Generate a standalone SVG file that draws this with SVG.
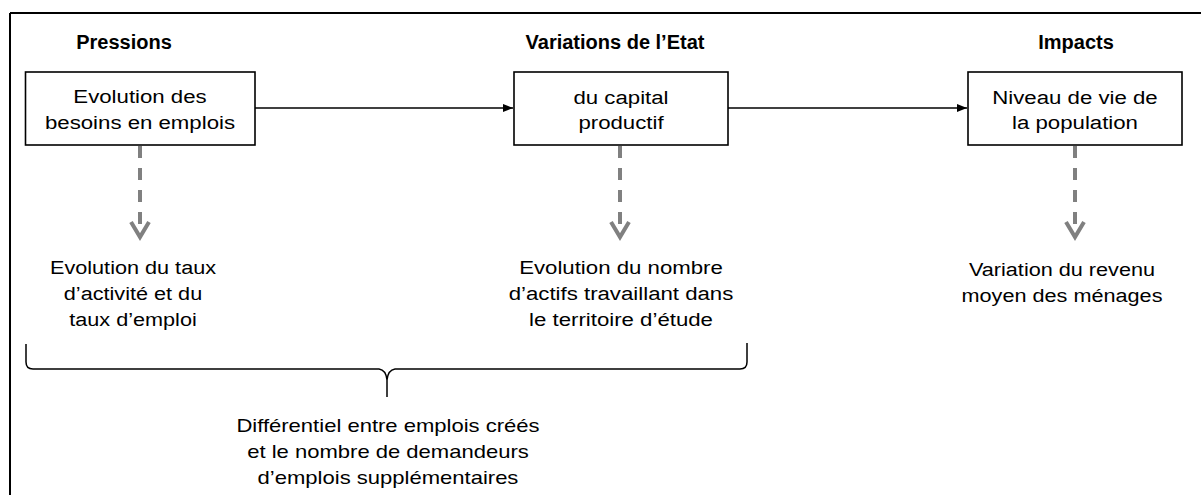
<svg xmlns="http://www.w3.org/2000/svg" width="1201" height="495" viewBox="0 0 1201 495">
<style>
.hdr{font-family:"Liberation Sans",Arial,sans-serif;font-weight:bold;font-size:20px;fill:#000;text-anchor:middle}
.txt{font-family:"Liberation Sans",Arial,sans-serif;font-size:19px;fill:#000;text-anchor:middle}
.box{fill:#fff;stroke:#000;stroke-width:1.6}
.solid{stroke:#000;stroke-width:1.5;fill:none}
.dash{stroke:#808080;stroke-width:4;fill:none;stroke-dasharray:12 10}
.chev{stroke:#808080;stroke-width:4;fill:none;stroke-linejoin:miter}
.brace{stroke:#000;stroke-width:1.5;fill:none}
</style>
<defs>
<marker id="ah" markerWidth="10" markerHeight="8" refX="10" refY="4" orient="auto" markerUnits="userSpaceOnUse">
<path d="M0,0 L10,4 L0,8 Z" fill="#000"/>
</marker>
</defs>
<rect x="0" y="0" width="1201" height="495" fill="#fff"/>
<g id="frame">
<path d="M10,13 H1201 M10,13 V495" stroke="#000" stroke-width="2" fill="none"/>
</g>
<g id="headers">
<text class="hdr" x="124" y="49">Pressions</text>
<text class="hdr" x="615" y="49">Variations de l’Etat</text>
<text class="hdr" x="1076" y="49">Impacts</text>
</g>
<g id="connectors">
<line class="solid" x1="255" y1="108" x2="513" y2="108" marker-end="url(#ah)"/>
<line class="solid" x1="728" y1="108" x2="967" y2="108" marker-end="url(#ah)"/>
<line class="dash" x1="140" y1="146" x2="140" y2="226"/>
<polyline class="chev" points="131,222 140,237 149,222"/>
<line class="dash" x1="620" y1="146" x2="620" y2="226"/>
<polyline class="chev" points="611,222 620,237 629,222"/>
<line class="dash" x1="1075" y1="146" x2="1075" y2="226"/>
<polyline class="chev" points="1066,222 1075,237 1084,222"/>
<path class="brace" d="M26,344 V362 Q26,369 33,369 H379 Q386,370 387,380 V397 M387,380 Q388,370 395,369 H740 Q747,369 747,362 V343"/>
</g>
<g id="node-pressions">
<rect class="box" x="25.5" y="72" width="229.5" height="73"/>
<text class="txt" transform="translate(140,0) scale(1.17,1)"><tspan x="0" y="103">Evolution des</tspan><tspan x="0" y="129">besoins en emplois</tspan></text>
</g>
<g id="node-etat">
<rect class="box" x="514" y="72" width="214" height="73"/>
<text class="txt" transform="translate(621,0) scale(1.17,1)"><tspan x="0" y="104">du capital</tspan><tspan x="0" y="129">productif</tspan></text>
</g>
<g id="node-impacts">
<rect class="box" x="968" y="72" width="214" height="73"/>
<text class="txt" transform="translate(1075,0) scale(1.17,1)"><tspan x="0" y="104">Niveau de vie de</tspan><tspan x="0" y="129">la population</tspan></text>
</g>
<g id="label-taux">
<text class="txt" transform="translate(133,0) scale(1.14,1)"><tspan x="0" y="274">Evolution du taux</tspan><tspan x="0" y="300">d’activité et du</tspan><tspan x="0" y="326">taux d’emploi</tspan></text>
</g>
<g id="label-actifs">
<text class="txt" transform="translate(621,0) scale(1.17,1)"><tspan x="0" y="274">Evolution du nombre</tspan><tspan x="0" y="300">d’actifs travaillant dans</tspan><tspan x="0" y="326">le territoire d’étude</tspan></text>
</g>
<g id="label-revenu">
<text class="txt" transform="translate(1062,0) scale(1.14,1)"><tspan x="0" y="276">Variation du revenu</tspan><tspan x="0" y="302">moyen des ménages</tspan></text>
</g>
<g id="label-differentiel">
<text class="txt" transform="translate(388,0) scale(1.16,1)"><tspan x="0" y="432">Différentiel entre emplois créés</tspan><tspan x="0" y="458">et le nombre de demandeurs</tspan><tspan x="0" y="484">d’emplois supplémentaires</tspan></text>
</g>
</svg>
